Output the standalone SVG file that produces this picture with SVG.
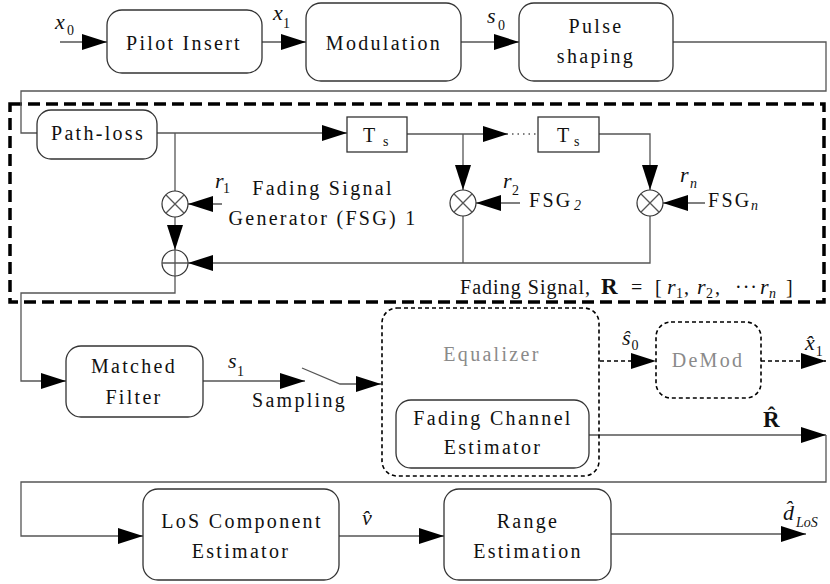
<svg xmlns="http://www.w3.org/2000/svg" width="830" height="584" viewBox="0 0 830 584">
<defs>
<marker id="ah" markerUnits="userSpaceOnUse" markerWidth="25" markerHeight="16" refX="25" refY="8" orient="auto">
<path d="M0,0 L25,8 L0,16 z" fill="#000"/>
</marker>
<style>
.box{fill:#fff;stroke:#333;stroke-width:1.3}
.sq{fill:#fff;stroke:#333;stroke-width:1.3}
.dbox{fill:none;stroke:#000;stroke-width:1.6;stroke-dasharray:4 3}
.big{fill:none;stroke:#000;stroke-width:3.5;stroke-dasharray:12 6}
.ln{fill:none;stroke:#555;stroke-width:1.3}
.dl{fill:none;stroke:#000;stroke-width:1.5;stroke-dasharray:4 3}
.op{fill:#fff;stroke:#333;stroke-width:1.2}
.t{font-family:"Liberation Serif","Times New Roman",serif;font-size:20px;letter-spacing:2.3px;fill:#111}
.c{text-anchor:middle}
.g{fill:#8a8a8a}
.m{font-family:"Liberation Serif","Times New Roman",serif;font-size:22px;font-style:italic;fill:#111}
.s{font-family:"Liberation Serif","Times New Roman",serif;font-size:14px;fill:#111}
.si{font-family:"Liberation Serif","Times New Roman",serif;font-size:14px;font-style:italic;fill:#111}
.b{font-family:"Liberation Serif","Times New Roman",serif;font-size:23px;font-weight:bold;fill:#111}
.h{font-family:"Liberation Serif","Times New Roman",serif;font-size:20px;fill:#111}
</style>
</defs>

<rect class="big" x="10" y="104" width="814" height="198"/>

<g id="connectors">
<path class="ln" d="M60,42 H107" marker-end="url(#ah)"/>
<path class="ln" d="M262,42 H306" marker-end="url(#ah)"/>
<path class="ln" d="M461,42 H519" marker-end="url(#ah)"/>
<path class="ln" d="M673,42 H826 V91 H21 V133 H37"/>
<path class="ln" d="M157,133 H347" marker-end="url(#ah)"/>
<path class="ln" d="M175,133 V191"/>
<path class="ln" d="M175,217 V250" marker-end="url(#ah)"/>
<path class="ln" d="M222,204 H188" marker-end="url(#ah)"/>
<path class="ln" d="M407,134 H508" marker-end="url(#ah)"/>
<path class="ln" d="M512,134 H537" stroke-dasharray="1.5 4"/>
<path class="ln" d="M463,134 V190" marker-end="url(#ah)"/>
<path class="ln" d="M520,203 H476" marker-end="url(#ah)"/>
<path class="ln" d="M599,134 H650 V190" marker-end="url(#ah)"/>
<path class="ln" d="M705,203 H663" marker-end="url(#ah)"/>
<path class="ln" d="M463,216 V263"/>
<path class="ln" d="M650,216 V263 H188" marker-end="url(#ah)"/>
<path class="ln" d="M175,276 V293 H21 V381 H66" marker-end="url(#ah)"/>
<path class="ln" d="M203,381 H305" marker-end="url(#ah)"/>
<path class="ln" d="M302,368 L340,384 H381" marker-end="url(#ah)"/>
<path class="dl" d="M600,361 H656" marker-end="url(#ah)"/>
<path class="dl" d="M761,361 H826" marker-end="url(#ah)"/>
<path class="ln" d="M589,435 H826" marker-end="url(#ah)"/>
<path class="ln" d="M826,435 V482 H21 V536 H143" marker-end="url(#ah)"/>
<path class="ln" d="M339,536 H444" marker-end="url(#ah)"/>
<path class="ln" d="M611,534 H806" marker-end="url(#ah)"/>
</g>

<g id="pilot">
<rect class="box" x="107" y="10" width="155" height="63" rx="15"/>
<text class="t c" x="184" y="50">Pilot Insert</text>
</g>
<g id="modulation">
<rect class="box" x="306" y="3" width="155" height="78" rx="15"/>
<text class="t c" x="384" y="50">Modulation</text>
</g>
<g id="pulse">
<rect class="box" x="519" y="3" width="154" height="78" rx="15"/>
<text class="t c" x="596" y="33">Pulse</text>
<text class="t c" x="596" y="63">shaping</text>
</g>
<g id="pathloss">
<rect class="box" x="37" y="110" width="120" height="49" rx="14"/>
<text class="t c" x="98" y="140">Path-loss</text>
</g>
<g id="ts1">
<rect class="sq" x="347" y="117" width="60" height="35"/>
<text class="h" x="363" y="142">T</text><text class="s" x="383" y="146" font-size="12">s</text>
</g>
<g id="ts2">
<rect class="sq" x="538" y="117" width="61" height="35"/>
<text class="h" x="557" y="142">T</text><text class="s" x="574" y="146" font-size="12">s</text>
</g>
<g id="mult1">
<circle class="op" cx="175" cy="204" r="13"/>
<path class="ln" d="M165.8,194.8 L184.2,213.2 M184.2,194.8 L165.8,213.2" stroke="#333"/>
</g>
<g id="mult2">
<circle class="op" cx="463" cy="203" r="13"/>
<path class="ln" d="M453.8,193.8 L472.2,212.2 M472.2,193.8 L453.8,212.2" stroke="#333"/>
</g>
<g id="multn">
<circle class="op" cx="650" cy="203" r="13"/>
<path class="ln" d="M640.8,193.8 L659.2,212.2 M659.2,193.8 L640.8,212.2" stroke="#333"/>
</g>
<g id="sum">
<circle class="op" cx="175" cy="263" r="13"/>
<path class="ln" d="M162,263 H188 M175,250 V276" stroke="#333"/>
</g>
<g id="fsg1">
<text class="t c" x="323" y="195">Fading Signal</text>
<text class="t c" x="323" y="225">Generator (FSG) 1</text>
</g>
<g id="fsg2">
<text class="t" x="529" y="207">FSG</text><text class="si" x="574" y="210">2</text>
</g>
<g id="fsgn">
<text class="t" x="708" y="207">FSG</text><text class="si" x="751" y="210">n</text>
</g>
<g id="matched">
<rect class="box" x="66" y="346" width="137" height="71" rx="15"/>
<text class="t c" x="134" y="373">Matched</text>
<text class="t c" x="134" y="404">Filter</text>
</g>
<g id="equalizer">
<rect class="dbox" x="382" y="308" width="217" height="168" rx="15"/>
<text class="t c g" x="492" y="361">Equalizer</text>
</g>
<g id="fce">
<rect class="box" x="396" y="400" width="193" height="68" rx="15"/>
<text class="t c" x="493" y="425">Fading Channel</text>
<text class="t c" x="493" y="454">Estimator</text>
</g>
<g id="demod">
<rect class="dbox" x="656" y="322" width="105" height="76" rx="15"/>
<text class="t c g" x="708" y="367">DeMod</text>
</g>
<g id="los">
<rect class="box" x="143" y="489" width="196" height="91" rx="15"/>
<text class="t c" x="242" y="528">LoS Component</text>
<text class="t c" x="241" y="558">Estimator</text>
</g>
<g id="range">
<rect class="box" x="444" y="489" width="167" height="91" rx="15"/>
<text class="t c" x="528" y="528">Range</text>
<text class="t c" x="528" y="558">Estimation</text>
</g>

<g id="labels">
<text class="m" x="55" y="29">x</text><text class="s" x="67" y="35">0</text>
<text class="m" x="273" y="20">x</text><text class="s" x="283" y="28">1</text>
<text class="m" x="487" y="23">s</text><text class="s" x="498" y="30">0</text>
<text class="m" x="215" y="188">r</text><text class="s" x="223" y="193">1</text>
<text class="m" x="503" y="188">r</text><text class="s" x="512" y="195">2</text>
<text class="m" x="680" y="182">r</text><text class="si" x="690" y="188">n</text>
<text class="m" x="228" y="368">s</text><text class="s" x="237" y="376">1</text>
<text class="t" x="252" y="407">Sampling</text>
<text class="m" x="622" y="345">ŝ<tspan class="s" font-style="normal" dx="1" dy="5">0</tspan></text>
<text class="m" x="805" y="350">x̂<tspan class="s" font-style="normal" dx="1" dy="6">1</tspan></text>
<text class="b" x="763" y="427">R̂</text>
<text class="m" x="362" y="525">v̂</text>
<text class="m" x="783" y="520">d̂<tspan class="si" font-size="13" dx="2" dy="7">LoS</tspan></text>
<text class="h" x="460" y="294" textLength="130" lengthAdjust="spacing">Fading Signal,</text>
<text class="b" x="601" y="294">R</text>
<text class="h" x="631" y="294">=</text>
<text class="h" x="655" y="294">[</text>
<text class="m" x="667" y="294">r</text><text class="s" x="676" y="298">1</text>
<text class="h" x="684" y="294">,</text>
<text class="m" x="697" y="294">r</text><text class="s" x="706" y="298">2</text>
<text class="h" x="715" y="294">,</text>
<text class="h" x="735" y="294" letter-spacing="1">···</text>
<text class="m" x="760" y="294">r</text><text class="si" x="769" y="298">n</text>
<text class="h" x="786" y="294">]</text>
</g>
</svg>
